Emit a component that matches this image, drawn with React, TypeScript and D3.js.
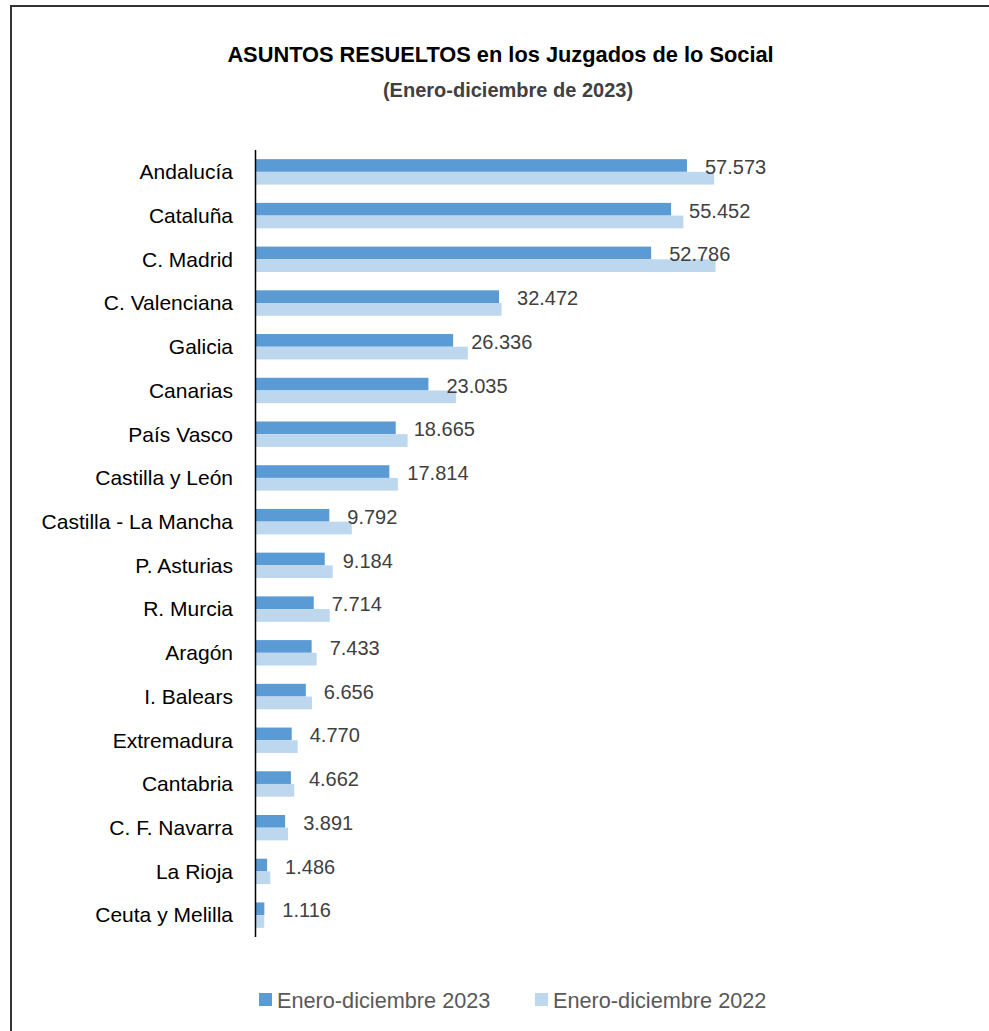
import React from 'react';
import * as d3 from 'd3';

const regions = [
  'Andalucía', 'Cataluña', 'C. Madrid', 'C. Valenciana', 'Galicia', 'Canarias',
  'País Vasco', 'Castilla y León', 'Castilla - La Mancha', 'P. Asturias', 'R. Murcia',
  'Aragón', 'I. Balears', 'Extremadura', 'Cantabria', 'C. F. Navarra', 'La Rioja', 'Ceuta y Melilla',
];
const values2023 = [
  57573, 55452, 52786, 32472, 26336, 23035, 18665, 17814, 9792,
  9184, 7714, 7433, 6656, 4770, 4662, 3891, 1486, 1116,
];
// 2022 values are not labelled in the source
const values2022 = [
  61200, 57100, 61400, 32800, 28300, 26700, 20250, 18950, 12800,
  10250, 9850, 8100, 7480, 5570, 5110, 4270, 1910, 1100,
];
const seriesNames = ['Enero-diciembre 2023', 'Enero-diciembre 2022'];
const seriesColors = ['#5B9BD5', '#BDD7EE'];

const W = 989;
const H = 1031;
const font = "'Liberation Sans', Arial, sans-serif";
const fmt = (v: number) => d3.format(',')(v).replace(/,/g, '.');

const App: React.FC = () => {
  const x = d3.scaleLinear().domain([0, 70000]).range([256, 780]);
  const y = d3.scaleBand<string>().domain(regions).range([150, 937]).padding(0);
  const sub = d3.scaleBand<string>().domain(['2023', '2022'])
    .range([0, y.bandwidth()]).paddingInner(0).paddingOuter(0.72);

  return (
    <svg width={W} height={H} style={{ position: 'absolute', left: 0, top: 0, background: '#fff' }}>
      <path d={`M11,${H} V6 H${W}`} fill="none" stroke="#333" strokeWidth={2} />

      <text x={500.5} y={62} textAnchor="middle" fontFamily={font} fontWeight="bold" fontSize={21.8} fill="#000">
        ASUNTOS RESUELTOS en los Juzgados de lo Social
      </text>
      <text x={508} y={97} textAnchor="middle" fontFamily={font} fontWeight="bold" fontSize={20} fill="#404040">
        (Enero-diciembre de 2023)
      </text>

      {regions.map((r, i) => {
        const y0 = y(r)!;
        return (
          <g key={r}>
            <rect x={x(0)} y={y0 + sub('2023')!} width={x(values2023[i]) - x(0)} height={sub.bandwidth()} fill={seriesColors[0]} />
            <rect x={x(0)} y={y0 + sub('2022')!} width={x(values2022[i]) - x(0)} height={sub.bandwidth()} fill={seriesColors[1]} />
            <text x={233} y={y0 + y.bandwidth() / 2} dy="0.35em" textAnchor="end" fontFamily={font} fontSize={21} fill="#000">
              {r}
            </text>
            <text x={x(values2023[i]) + 18} y={y0 + sub('2023')! + sub.bandwidth() / 2 + 1.5} dy="0.35em"
              fontFamily={font} fontSize={20} fill="#404040">
              {fmt(values2023[i])}
            </text>
          </g>
        );
      })}

      <line x1={255.5} x2={255.5} y1={150} y2={937} stroke="#000" strokeWidth={1.5} />

      {seriesNames.map((s, i) => {
        const lx = i === 0 ? 259 : 535;
        return (
          <g key={s}>
            <rect x={lx} y={993} width={13} height={13} fill={seriesColors[i]} />
            <text x={lx + 18} y={1007.5} fontFamily={font} fontSize={21.7} fill="#595959">{s}</text>
          </g>
        );
      })}
    </svg>
  );
};

export default App;
